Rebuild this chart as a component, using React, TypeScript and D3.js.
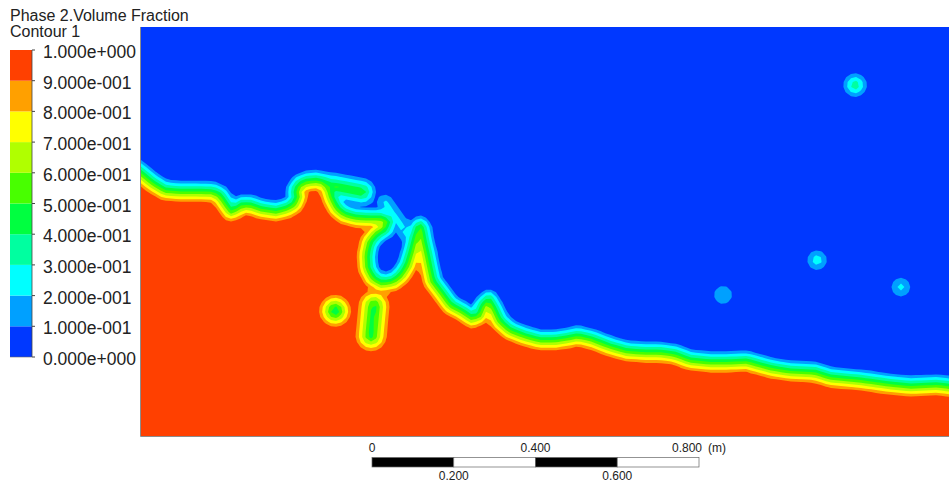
import React, { useMemo } from 'react'
import * as d3 from 'd3'

// alpha = 0.5 line of the free surface, metres [x, y]; water lies below it
const interfaceLine: [number, number][] = [
  [-0.032, 0.667], [0.0, 0.643], [0.029, 0.619], [0.059, 0.601], [0.095, 0.598],
  [0.144, 0.598], [0.176, 0.597], [0.193, 0.589], [0.208, 0.567], [0.22, 0.55],
  [0.232, 0.555], [0.247, 0.565], [0.267, 0.565], [0.296, 0.555], [0.33, 0.55],
  [0.357, 0.557], [0.374, 0.567], [0.382, 0.584], [0.379, 0.601], [0.389, 0.616],
  [0.406, 0.623], [0.428, 0.625], [0.448, 0.621], [0.46, 0.606], [0.467, 0.582],
  [0.48, 0.557], [0.497, 0.543], [0.524, 0.535], [0.555, 0.533], [0.585, 0.533],
  [0.604, 0.526], [0.597, 0.506], [0.577, 0.494], [0.56, 0.474], [0.553, 0.443],
  [0.555, 0.411], [0.568, 0.386], [0.59, 0.374], [0.617, 0.379], [0.636, 0.394],
  [0.651, 0.418], [0.661, 0.45], [0.67, 0.484], [0.678, 0.509], [0.683, 0.513],
  [0.687, 0.506], [0.692, 0.479], [0.7, 0.445], [0.707, 0.411], [0.714, 0.379],
  [0.736, 0.35], [0.758, 0.32], [0.785, 0.306], [0.81, 0.289], [0.827, 0.296],
  [0.837, 0.32], [0.851, 0.333], [0.864, 0.311], [0.878, 0.281], [0.903, 0.259],
  [0.939, 0.245], [0.976, 0.235], [1.013, 0.235], [1.045, 0.24], [1.069, 0.245],
  [1.103, 0.237], [1.147, 0.22], [1.189, 0.208], [1.233, 0.205], [1.27, 0.205],
  [1.306, 0.2], [1.343, 0.186], [1.392, 0.181], [1.434, 0.181], [1.483, 0.183],
  [1.514, 0.174], [1.544, 0.166], [1.588, 0.159], [1.649, 0.156], [1.686, 0.144],
  [1.759, 0.137], [1.832, 0.127], [1.881, 0.122], [1.947, 0.125], [2.016, 0.117],
]

// water drops / films in the air: [x1, y1, x2, y2, radius of the 0.1 edge, peak]
const airDrops: number[][] = [
  [1.747, 0.858, 1.747, 0.858, 0.029, 0.42],
  [1.654, 0.43, 1.654, 0.43, 0.024, 0.3],
  [1.424, 0.345, 1.424, 0.345, 0.022, 0.18],
  [1.859, 0.364, 1.859, 0.364, 0.023, 0.26],
  [0.467, 0.611, 0.541, 0.597, 0.034, 0.52],
  [0.597, 0.57, 0.653, 0.491, 0.02, 0.25],
]

// air bubbles in the water: [x1, y1, x2, y2, radius of the 0.9 edge, trough]
const waterBubbles: number[][] = [
  [0.475, 0.306, 0.475, 0.306, 0.039, 0.35],
  [0.57, 0.318, 0.563, 0.245, 0.038, 0.42],
]

const levels = [0, 0.1, 0.2, 0.3, 0.4, 0.5, 0.6, 0.7, 0.8, 0.9]
const bandColors = [
  '#0038ff', '#00a0ff', '#00ffff', '#00ffa0', '#00ff40',
  '#48ff00', '#b0ff00', '#ffff00', '#ffa000', '#ff4000',
]
const legendTicks = [1, 0.9, 0.8, 0.7, 0.6, 0.5, 0.4, 0.3, 0.2, 0.1, 0]
const scaleTicks = [0, 0.2, 0.4, 0.6, 0.8]

const W = 949
const H = 487
const STEP = 5
const BAND = 26
const FONT = "'Liberation Sans', Arial, sans-serif"

const x = d3.scaleLinear().domain([0, 2]).range([141, 958.5])
const y = d3.scaleLinear().domain([0, 1]).range([436, 27])

function segDist(px: number, py: number, ax: number, ay: number, bx: number, by: number) {
  const dx = bx - ax
  const dy = by - ay
  const l2 = dx * dx + dy * dy
  let t = l2 ? ((px - ax) * dx + (py - ay) * dy) / l2 : 0
  t = Math.max(0, Math.min(1, t))
  const ex = ax + t * dx - px
  const ey = ay + t * dy - py
  return Math.sqrt(ex * ex + ey * ey)
}

function fmt(v: number) {
  const [m, e] = v.toExponential(3).split('e')
  const n = parseInt(e, 10)
  return m + 'e' + (n < 0 ? '-' : '+') + String(Math.abs(n)).padStart(3, '0')
}

function buildContours() {
  const line = interfaceLine.map(([a, b]) => [x(a), y(b)] as [number, number])
  const poly: [number, number][] = [
    ...line,
    [line[line.length - 1][0], 700],
    [line[0][0], 700],
  ]
  const k = x(1) - x(0)
  const x0 = x(0)
  const y0 = y(1)
  const nx = Math.ceil((x(2) - x0) / STEP) + 2
  const ny = Math.ceil((y(0) - y0) / STEP) + 2
  const values = new Array(nx * ny)

  for (let j = 0; j < ny; j++) {
    for (let i = 0; i < nx; i++) {
      const px = x0 + i * STEP
      const py = y0 + j * STEP
      let d = Infinity
      for (let s = 0; s < line.length - 1; s++) {
        const dd = segDist(px, py, line[s][0], line[s][1], line[s + 1][0], line[s + 1][1])
        if (dd < d) d = dd
      }
      const sd = d3.polygonContains(poly, [px, py]) ? d : -d
      let v = Math.max(0, Math.min(1, 0.5 + sd / BAND))
      airDrops.forEach(([ax, ay, bx, by, r, peak]) => {
        const dd = segDist(px, py, x(ax), y(ay), x(bx), y(by))
        v = Math.max(v, peak - ((peak - 0.1) * dd) / (r * k))
      })
      waterBubbles.forEach(([ax, ay, bx, by, r, low]) => {
        const dd = segDist(px, py, x(ax), y(ay), x(bx), y(by))
        v = Math.min(v, low + ((0.9 - low) * dd) / (r * k))
      })
      values[i + j * nx] = v
    }
  }

  const contours = d3.contours().size([nx, ny]).thresholds(levels)(values)
  return { contours, x0, y0 }
}

export default function App() {
  const { contours, x0, y0 } = useMemo(buildContours, [])
  const path = d3.geoPath()

  const ls = d3.scaleLinear().domain([0, 1]).range([357, 50])
  const sb = d3.scaleLinear().domain([0, 0.8]).range([372, 372 + x(0.8) - x(0)])

  return (
    <svg
      width={W}
      height={H}
      style={{ position: 'absolute', left: 0, top: 0, background: '#fff' }}
      fontFamily={FONT}
    >
      <defs>
        <clipPath id="plot">
          <rect x={141} y={27} width={x(2) - 141} height={436 - 27} />
        </clipPath>
      </defs>

      <g clipPath="url(#plot)">
        <g transform={`translate(${x0 - STEP / 2},${y0 - STEP / 2}) scale(${STEP})`}>
          {contours.map((c, i) => (
            <path key={i} d={path(c as any) || ''} fill={bandColors[i]} />
          ))}
        </g>
      </g>
      <line x1={140.5} x2={140.5} y1={27} y2={436.5} stroke="#8c8c8c" />
      <line x1={140.5} x2={W} y1={436.5} y2={436.5} stroke="#8c8c8c" />

      {/* legend */}
      <text x={10} y={21} fontSize={16} fill="#222">Phase 2.Volume Fraction</text>
      <text x={10} y={37} fontSize={16} fill="#222">Contour 1</text>
      {levels.map((t, i) => (
        <rect
          key={t}
          x={10}
          y={ls(t + 0.1)}
          width={22}
          height={ls(t) - ls(t + 0.1)}
          fill={bandColors[i]}
        />
      ))}
      <line x1={32} x2={32} y1={50} y2={357} stroke="#444" strokeWidth={0.8} />
      <line x1={10} x2={32} y1={357} y2={357} stroke="#666" strokeWidth={0.6} />
      {legendTicks.map((v) => (
        <g key={v}>
          <line x1={32} x2={35} y1={ls(v)} y2={ls(v)} stroke="#444" />
          <text x={43} y={ls(v) + 8} fontSize={17.5} fill="#222">{fmt(v)}</text>
        </g>
      ))}

      {/* scale bar */}
      {scaleTicks.slice(0, -1).map((t, i) => (
        <rect
          key={t}
          x={sb(t)}
          y={457.5}
          width={sb(scaleTicks[i + 1]) - sb(t)}
          height={9.5}
          fill={i % 2 === 0 ? '#000' : '#fff'}
          stroke="#666"
          strokeWidth={0.7}
        />
      ))}
      {scaleTicks.map((t, i) => (
        <text
          key={t}
          x={i === scaleTicks.length - 1 ? sb(t) + 3 : sb(t)}
          y={i % 2 === 0 ? 451.5 : 480}
          fontSize={12}
          fill="#222"
          textAnchor={i === scaleTicks.length - 1 ? 'end' : 'middle'}
        >
          {t === 0 ? '0' : t.toFixed(3)}
        </text>
      ))}
      <text x={708} y={451.5} fontSize={12} fill="#222">(m)</text>
    </svg>
  )
}
